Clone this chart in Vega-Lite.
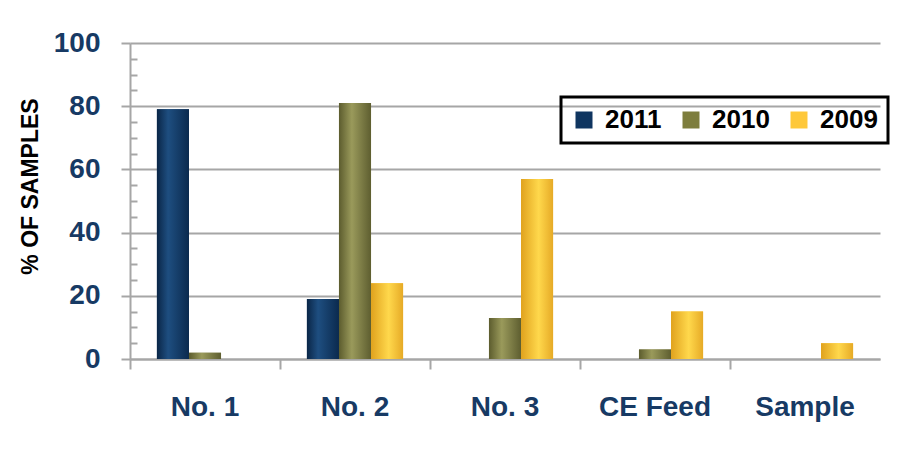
{
  "$schema": "https://vega.github.io/schema/vega-lite/v6.json",
  "width": 750,
  "height": 316,
  "autosize": {"type": "none"},
  "padding": {"left": 130, "top": 43, "right": 33, "bottom": 100},
  "background": "white",
  "config": {"view": {"stroke": null}},
  "data": {
    "values": [
      {"category": "No. 1", "year": "2011", "value": 79},
      {"category": "No. 1", "year": "2010", "value": 2},
      {"category": "No. 1", "year": "2009", "value": 0},
      {"category": "No. 2", "year": "2011", "value": 19},
      {"category": "No. 2", "year": "2010", "value": 81},
      {"category": "No. 2", "year": "2009", "value": 24},
      {"category": "No. 3", "year": "2011", "value": 0},
      {"category": "No. 3", "year": "2010", "value": 13},
      {"category": "No. 3", "year": "2009", "value": 57},
      {"category": "CE Feed", "year": "2011", "value": 0},
      {"category": "CE Feed", "year": "2010", "value": 3},
      {"category": "CE Feed", "year": "2009", "value": 15},
      {"category": "Sample", "year": "2011", "value": 0},
      {"category": "Sample", "year": "2010", "value": 0},
      {"category": "Sample", "year": "2009", "value": 5}
    ]
  },
  "encoding": {
    "x": {
      "field": "category",
      "type": "nominal",
      "sort": ["No. 1", "No. 2", "No. 3", "CE Feed", "Sample"],
      "scale": {"paddingInner": 0, "paddingOuter": 0},
      "axis": {
        "title": null,
        "labelAngle": 0,
        "bandPosition": 0,
        "labelFont": "Liberation Sans, sans-serif",
        "labelFontSize": 28,
        "labelFontWeight": "bold",
        "labelColor": "#173a64",
        "labelPadding": 24,
        "tickSize": 10,
        "tickWidth": 2,
        "tickColor": "#a6a6a6",
        "domainColor": "#a6a6a6",
        "domainWidth": 2
      }
    },
    "xOffset": {
      "field": "year",
      "type": "nominal",
      "sort": ["2011", "2010", "2009"],
      "scale": {"domain": ["2011", "2010", "2009"], "paddingInner": 0, "paddingOuter": 0.84}
    },
    "y": {
      "field": "value",
      "type": "quantitative",
      "scale": {"domain": [0, 100]},
      "axis": null
    }
  },
  "layer": [
    {
      "mark": {"type": "bar"},
      "encoding": {
        "y": {
          "field": "value",
          "type": "quantitative",
          "scale": {"domain": [0, 100]},
          "axis": {
            "title": "% OF SAMPLES",
            "values": [0, 20, 40, 60, 80, 100],
            "labelFont": "Liberation Sans, sans-serif",
            "labelFontSize": 28,
            "labelFontWeight": "bold",
            "labelColor": "#173a64",
            "labelPadding": 21,
            "tickSize": 9,
            "tickWidth": 2,
            "tickColor": "#a6a6a6",
            "domainColor": "#a6a6a6",
            "domainWidth": 2,
            "gridColor": "#a6a6a6",
            "gridWidth": 2,
            "titleFont": "Liberation Sans, sans-serif",
            "titleFontSize": 23,
            "titleFontWeight": "bold",
            "titleColor": "black",
            "titleAngle": 270,
            "titleAlign": "center",
            "titleBaseline": "bottom",
            "titleX": -88,
            "titleY": 143
          }
        },
        "color": {
          "field": "year",
          "type": "nominal",
          "scale": {"domain": ["2011", "2010", "2009"], "range": ["#0f3560", "#7d7d3d", "#fec83a"]},
          "legend": {
            "orient": "none",
            "legendX": 431,
            "legendY": 54,
            "direction": "horizontal",
            "title": null,
            "symbolType": "square",
            "symbolSize": 289,
            "symbolStrokeWidth": 0,
            "labelFont": "Liberation Sans, sans-serif",
            "labelFontSize": 26,
            "labelFontWeight": "bold",
            "labelColor": "black",
            "labelOffset": 8,
            "columnPadding": 16,
            "padding": 10,
            "strokeColor": "black",
            "encode": {"legend": {"update": {"strokeWidth": {"value": 3}}}}
          }
        }
      }
    },
    {
      "transform": [{"filter": "datum.year === '2011'"}],
      "mark": {
        "type": "bar",
        "fill": {
          "gradient": "linear", "x1": 0, "y1": 0, "x2": 1, "y2": 0,
          "stops": [
            {"offset": 0, "color": "#0a2647"},
            {"offset": 0.35, "color": "#1e4e80"},
            {"offset": 1, "color": "#0b2a4e"}
          ]
        }
      },
      "encoding": {
        "y": {
          "field": "value",
          "type": "quantitative",
          "scale": {"domain": [0, 100]},
          "axis": {
            "orient": "left",
            "title": null,
            "values": [5, 10, 15, 25, 30, 35, 45, 50, 55, 65, 70, 75, 85, 90, 95],
            "labels": false,
            "grid": false,
            "domain": false,
            "tickSize": -7,
            "tickWidth": 2,
            "tickColor": "#a6a6a6"
          }
        }
      }
    },
    {
      "transform": [{"filter": "datum.year === '2010'"}],
      "mark": {
        "type": "bar",
        "fill": {
          "gradient": "linear", "x1": 0, "y1": 0, "x2": 1, "y2": 0,
          "stops": [
            {"offset": 0, "color": "#5c5c2e"},
            {"offset": 0.4, "color": "#9a9a5b"},
            {"offset": 1, "color": "#5e5e30"}
          ]
        }
      }
    },
    {
      "transform": [{"filter": "datum.year === '2009'"}],
      "mark": {
        "type": "bar",
        "fill": {
          "gradient": "linear", "x1": 0, "y1": 0, "x2": 1, "y2": 0,
          "stops": [
            {"offset": 0, "color": "#e0a21e"},
            {"offset": 0.55, "color": "#ffd84c"},
            {"offset": 1, "color": "#e6aa26"}
          ]
        }
      }
    }
  ],
  "resolve": {"axis": {"y": "independent"}}
}
